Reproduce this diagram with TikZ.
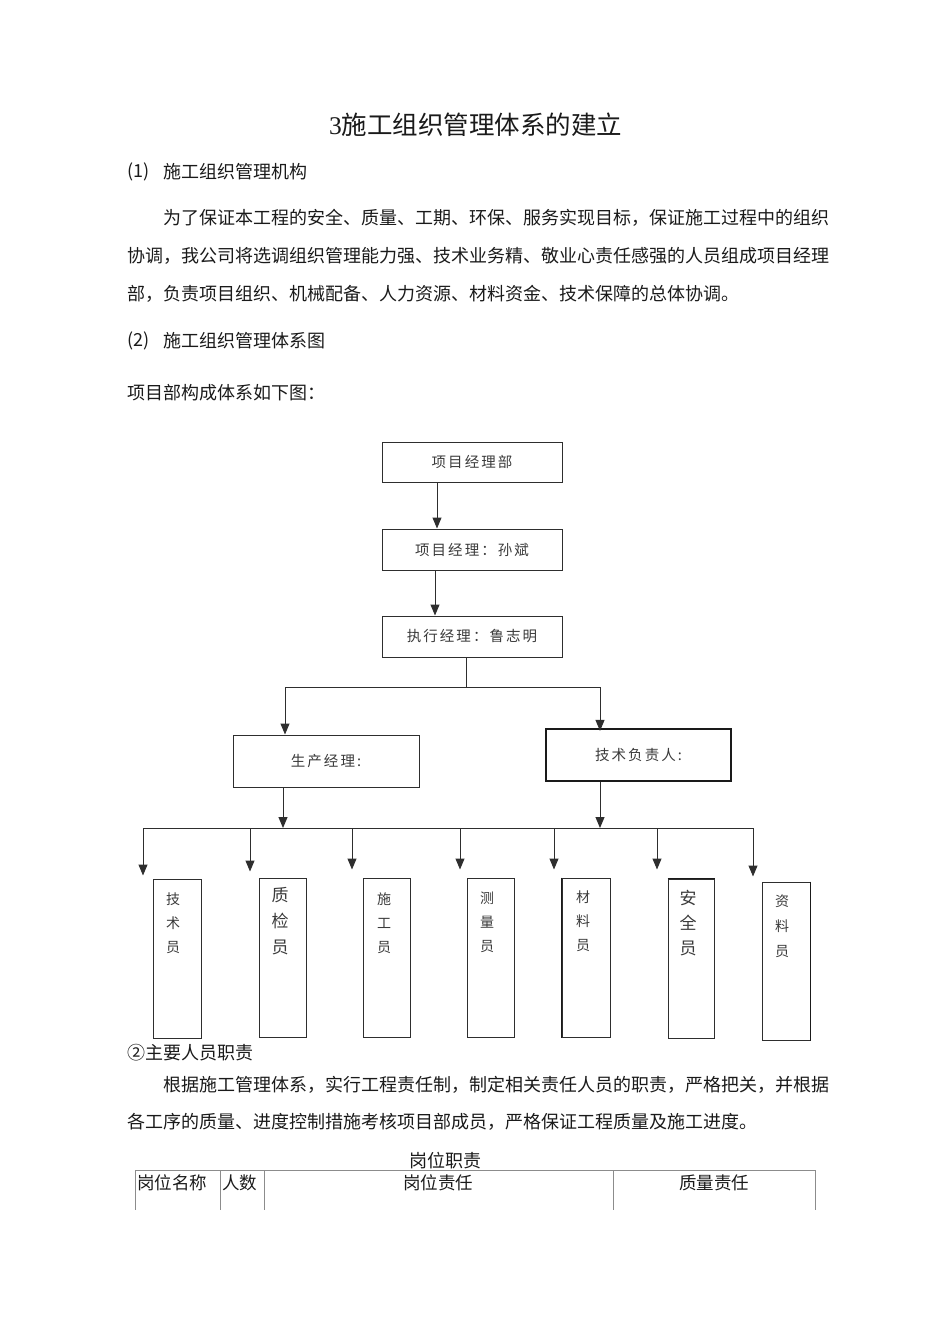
\documentclass[tikz,border=0pt]{standalone}
\usepackage{fontspec}
\setmainfont{Liberation Serif}
\newfontfamily\cjk{Noto Sans CJK SC}
\newfontfamily\boxfont[LetterSpace=14]{Noto Sans CJK SC}
\usetikzlibrary{arrows.meta}
\definecolor{ink}{HTML}{1A1A1A}
\definecolor{lineink}{HTML}{2E2E2E}
\definecolor{boxtext}{HTML}{3A3A3A}
\definecolor{rule}{HTML}{8C8C8C}

\tikzset{
  bodytext/.style={anchor=west, inner sep=0pt, text=ink, font=\cjk\fontsize{18}{18}\selectfont},
  orgbox/.style={draw=lineink, line width=1pt, inner sep=0pt, text=boxtext,
    font=\boxfont\fontsize{14.5}{14.5}\selectfont},
  staffbox/.style={draw=lineink, line width=1pt, inner sep=0pt, minimum width=47pt, minimum height=159pt},
  stafftext/.style={anchor=north, inner sep=0pt, align=center, text=boxtext,
    font=\cjk\fontsize{14}{24}\selectfont},
  bigstafftext/.style={stafftext, font=\cjk\fontsize{17}{26}\selectfont},
  arr/.style={-{Triangle[length=11pt,width=9pt]}, line width=1pt, draw=lineink},
  link/.style={line width=1pt, draw=lineink}
}

\begin{document}
\begin{tikzpicture}[x=1pt, y=-1pt]
  \useasboundingbox (0,0) rectangle (950,1344);

  % Heading and opening text
  \node[anchor=west, inner sep=0pt, text=ink, font=\fontsize{25.5}{25.5}\selectfont] (title) at (329,125)
    {3\cjk 施工组织管理体系的建立};
  \node[bodytext] (h1no) at (127,172) {(1)};
  \node[bodytext] (h1) at (163,172) {施工组织管理机构};
  \node[bodytext] (p1a) at (163,218) {为了保证本工程的安全、质量、工期、环保、服务实现目标，保证施工过程中的组织};
  \node[bodytext] (p1b) at (127,256) {协调，我公司将选调组织管理能力强、技术业务精、敬业心责任感强的人员组成项目经理};
  \node[bodytext] (p1c) at (127,294) {部，负责项目组织、机械配备、人力资源、材料资金、技术保障的总体协调。};
  \node[bodytext] (h2no) at (127,341) {(2)};
  \node[bodytext] (h2) at (163,341) {施工组织管理体系图};
  \node[bodytext] (intro) at (127,393) {项目部构成体系如下图：};

  % Upper chain
  \node[orgbox, minimum width=180pt, minimum height=40pt] (dept) at (472,462) {项目经理部};
  \node[orgbox, minimum width=180pt, minimum height=41pt] (pm) at (472,549.5) {项目经理：孙斌};
  \node[orgbox, minimum width=180pt, minimum height=41pt] (exec) at (472,636.5) {执行经理：鲁志明};
  \draw[arr] ([xshift=-35pt]dept.south) -- ([xshift=-35pt]pm.north);
  \draw[arr] ([xshift=-37pt]pm.south) -- ([xshift=-37pt]exec.north);

  % Second level
  \node[orgbox, minimum width=186pt, minimum height=52pt] (prod) at (326,761) {生产经理:};
  \node[orgbox, line width=2.2pt, draw=ink, minimum width=185pt, minimum height=52pt] (tech) at (638.5,755) {技术负责人:};
  \coordinate (split) at (466,687);
  \coordinate (splitL) at (285,687);
  \coordinate (splitR) at (600,687);
  \draw[link] ([xshift=-6pt]exec.south) -- (split);
  \draw[link] (splitL) -- (splitR);
  \draw[arr] (splitL) -- (splitL |- prod.north);
  \draw[arr] (splitR) -- ([yshift=-3pt]splitR |- tech.north);

  % Staff bus
  \coordinate (busL) at (143,828);
  \coordinate (busR) at (754,828);
  \coordinate (pj) at (283,828);
  \coordinate (tj) at (600,828);
  \draw[link] (busL) -- (busR);
  \draw[arr] (prod.south -| pj) -- (pj);
  \draw[arr] (tech.south -| tj) -- (tj);

  % Staff boxes
  \node[staffbox, minimum width=48pt] (s1) at (177,958.5) {};
  \node[staffbox] (s2) at (282.5,957.5) {};
  \node[staffbox] (s3) at (386.5,957.5) {};
  \node[staffbox] (s4) at (490.5,957.5) {};
  \node[staffbox, minimum width=48pt] (s5) at (586,957.5) {};
  \node[staffbox, minimum width=46pt] (s6) at (691,958.5) {};
  \node[staffbox, minimum width=48pt, minimum height=158pt] (s7) at (786,961) {};
  \draw[line width=1.8pt, draw=ink] (s5.north west) -- (s5.south west);
  \draw[line width=1.8pt, draw=ink] (s6.north west) -- (s6.north east);
  \draw[line width=1.8pt, draw=ink] (s7.north east) -- (s7.south east);

  \node[stafftext] (t1) at (173,893) {技\\术\\员};
  \node[bigstafftext] (t2) at (280,887) {质\\检\\员};
  \node[stafftext] (t3) at (384,893) {施\\工\\员};
  \node[stafftext] (t4) at (487,892) {测\\量\\员};
  \node[stafftext] (t5) at (583,891) {材\\料\\员};
  \node[bigstafftext, font=\cjk\fontsize{17}{25}\selectfont] (t6) at (688,890) {安\\全\\员};
  \node[stafftext, font=\cjk\fontsize{14}{25}\selectfont] (t7) at (782,895) {资\\料\\员};

  % Drops to staff
  \coordinate (d1) at (143,828);
  \coordinate (d2) at (250,828);
  \coordinate (d3) at (352,828);
  \coordinate (d4) at (460,828);
  \coordinate (d5) at (554,828);
  \coordinate (d6) at (657,828);
  \coordinate (d7) at (753,828);
  \draw[arr, shorten >=3pt] (d1) -- (d1 |- s1.north);
  \draw[arr, shorten >=6pt] (d2) -- (d2 |- s2.north);
  \draw[arr, shorten >=8pt] (d3) -- (d3 |- s3.north);
  \draw[arr, shorten >=8pt] (d4) -- (d4 |- s4.north);
  \draw[arr, shorten >=8pt] (d5) -- (d5 |- s5.north);
  \draw[arr, shorten >=9pt] (d6) -- (d6 |- s6.north);
  \draw[arr, shorten >=5pt] (d7) -- (d7 |- s7.north);

  % Duties text
  \node[bodytext] (h3) at (127,1053) {②主要人员职责};
  \node[bodytext] (p2a) at (163,1085) {根据施工管理体系，实行工程责任制，制定相关责任人员的职责，严格把关，并根据};
  \node[bodytext] (p2b) at (127,1122) {各工序的质量、进度控制措施考核项目部成员，严格保证工程质量及施工进度。};

  % Table head
  \node[inner sep=0pt, text=ink, font=\cjk\fontsize{18}{18}\selectfont] (tabcap) at (445,1161) {岗位职责};
  \draw[rule, line width=0.8pt] (135,1170) -- (815,1170);
  \draw[rule, line width=0.8pt] (135,1170) -- (135,1210);
  \draw[rule, line width=0.8pt] (220,1170) -- (220,1210);
  \draw[rule, line width=0.8pt] (264,1170) -- (264,1210);
  \draw[rule, line width=0.8pt] (613,1170) -- (613,1210);
  \draw[rule, line width=0.8pt] (815,1170) -- (815,1210);
  \node[bodytext, font=\cjk\fontsize{17.5}{17.5}\selectfont] (c1) at (137,1183) {岗位名称};
  \node[bodytext, font=\cjk\fontsize{17.5}{17.5}\selectfont] (c2) at (222,1183) {人数};
  \node[inner sep=0pt, text=ink, font=\cjk\fontsize{17.5}{17.5}\selectfont] (c3) at (438,1183) {岗位责任};
  \node[inner sep=0pt, text=ink, font=\cjk\fontsize{17.5}{17.5}\selectfont] (c4) at (714,1183) {质量责任};
\end{tikzpicture}
\end{document}
